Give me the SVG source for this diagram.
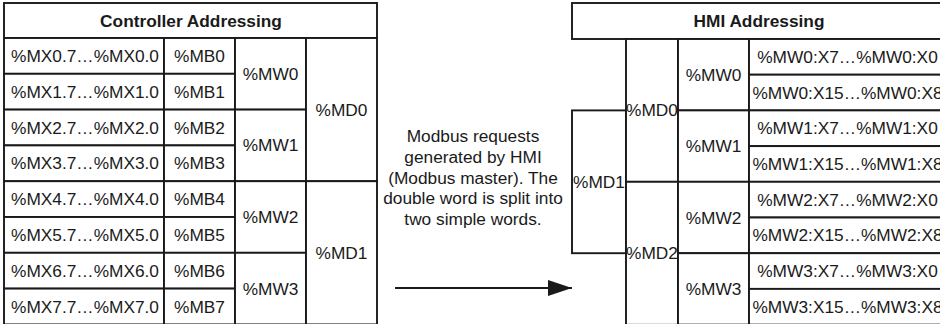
<svg xmlns="http://www.w3.org/2000/svg" width="940" height="324" viewBox="0 0 940 324">
<style>
rect{fill:#fff;stroke:#1a1a1a;stroke-width:1.9}
text{font-family:"Liberation Sans",Arial,sans-serif;font-size:17.3px;fill:#1a1a1a;text-anchor:middle}
.h{font-weight:bold}
.conn{stroke:#1a1a1a;stroke-width:1.9;fill:none}
</style>
<defs>
<marker id="ah" markerWidth="24" markerHeight="16" refX="24" refY="8" orient="auto" markerUnits="userSpaceOnUse">
<polygon points="0,0 24,8 0,16" fill="#1a1a1a"/>
</marker>
</defs>
<g id="ctrl">
<g id="ctrl-header"><rect x="4" y="3" width="373" height="35"/><text class="h" x="191" y="27">Controller Addressing</text></g>
<g id="mx0"><rect x="4" y="38" width="160" height="35.8"/><text x="85" y="62">%MX0.7…%MX0.0</text></g>
<g id="mx1"><rect x="4" y="73.8" width="160" height="35.8"/><text x="85" y="97.8">%MX1.7…%MX1.0</text></g>
<g id="mx2"><rect x="4" y="109.6" width="160" height="35.8"/><text x="85" y="133.6">%MX2.7…%MX2.0</text></g>
<g id="mx3"><rect x="4" y="145.4" width="160" height="35.8"/><text x="85" y="169.4">%MX3.7…%MX3.0</text></g>
<g id="mx4"><rect x="4" y="181.2" width="160" height="35.8"/><text x="85" y="205.2">%MX4.7…%MX4.0</text></g>
<g id="mx5"><rect x="4" y="217" width="160" height="35.8"/><text x="85" y="241">%MX5.7…%MX5.0</text></g>
<g id="mx6"><rect x="4" y="252.8" width="160" height="35.8"/><text x="85" y="276.8">%MX6.7…%MX6.0</text></g>
<g id="mx7"><rect x="4" y="288.6" width="160" height="35.8"/><text x="85" y="312.6">%MX7.7…%MX7.0</text></g>
<g id="mb0"><rect x="164" y="38" width="71" height="35.8"/><text x="199.5" y="62">%MB0</text></g>
<g id="mb1"><rect x="164" y="73.8" width="71" height="35.8"/><text x="199.5" y="97.8">%MB1</text></g>
<g id="mb2"><rect x="164" y="109.6" width="71" height="35.8"/><text x="199.5" y="133.6">%MB2</text></g>
<g id="mb3"><rect x="164" y="145.4" width="71" height="35.8"/><text x="199.5" y="169.4">%MB3</text></g>
<g id="mb4"><rect x="164" y="181.2" width="71" height="35.8"/><text x="199.5" y="205.2">%MB4</text></g>
<g id="mb5"><rect x="164" y="217" width="71" height="35.8"/><text x="199.5" y="241">%MB5</text></g>
<g id="mb6"><rect x="164" y="252.8" width="71" height="35.8"/><text x="199.5" y="276.8">%MB6</text></g>
<g id="mb7"><rect x="164" y="288.6" width="71" height="35.8"/><text x="199.5" y="312.6">%MB7</text></g>
<g id="mw0"><rect x="235" y="38" width="71" height="71.6"/><text x="270.5" y="79.8">%MW0</text></g>
<g id="mw1"><rect x="235" y="109.6" width="71" height="71.6"/><text x="270.5" y="151.4">%MW1</text></g>
<g id="mw2"><rect x="235" y="181.2" width="71" height="71.6"/><text x="270.5" y="223">%MW2</text></g>
<g id="mw3"><rect x="235" y="252.8" width="71" height="71.6"/><text x="270.5" y="294.6">%MW3</text></g>
<g id="md0"><rect x="306" y="38" width="71" height="143.2"/><text x="341.5" y="115.6">%MD0</text></g>
<g id="md1"><rect x="306" y="181.2" width="71" height="143.2"/><text x="341.5" y="258.8">%MD1</text></g>
</g>
<g id="note"><text x="473" y="142">Modbus requests</text><text x="473" y="163">generated by HMI</text><text x="473" y="183.5">(Modbus master). The</text><text x="473" y="204">double word is split into</text><text x="473" y="225">two simple words.</text></g>
<g id="connectors"><line class="conn" x1="395" y1="288" x2="572" y2="288" marker-end="url(#ah)"/></g>
<g id="hmi">
<g id="hmi-header"><rect x="572" y="3" width="374" height="36"/><text class="h" x="759" y="27">HMI Addressing</text></g>
<g id="hmi-md1"><rect x="572" y="110.4" width="54" height="142.8"/><text x="599" y="187.8">%MD1</text></g>
<g id="hmi-md0"><rect x="626" y="39" width="52" height="142.8"/><text x="652" y="116.4">%MD0</text></g>
<g id="hmi-md2"><rect x="626" y="181.8" width="52" height="143"/><text x="652" y="259.2">%MD2</text></g>
<g id="hmi-mw0"><rect x="678" y="39" width="71" height="71.4"/><text x="713.5" y="80.7">%MW0</text></g>
<g id="hmi-mw1"><rect x="678" y="110.4" width="71" height="71.4"/><text x="713.5" y="152.1">%MW1</text></g>
<g id="hmi-mw2"><rect x="678" y="181.8" width="71" height="71.4"/><text x="713.5" y="223.5">%MW2</text></g>
<g id="hmi-mw3"><rect x="678" y="253.2" width="71" height="71.4"/><text x="713.5" y="294.9">%MW3</text></g>
<g id="b0l"><rect x="749" y="39" width="197" height="35.7"/><text x="847.5" y="62.8">%MW0:X7…%MW0:X0</text></g>
<g id="b0h"><rect x="749" y="74.7" width="197" height="35.7"/><text x="847.5" y="98.5">%MW0:X15…%MW0:X8</text></g>
<g id="b1l"><rect x="749" y="110.4" width="197" height="35.7"/><text x="847.5" y="134.2">%MW1:X7…%MW1:X0</text></g>
<g id="b1h"><rect x="749" y="146.1" width="197" height="35.7"/><text x="847.5" y="169.9">%MW1:X15…%MW1:X8</text></g>
<g id="b2l"><rect x="749" y="181.8" width="197" height="35.7"/><text x="847.5" y="205.6">%MW2:X7…%MW2:X0</text></g>
<g id="b2h"><rect x="749" y="217.5" width="197" height="35.7"/><text x="847.5" y="241.3">%MW2:X15…%MW2:X8</text></g>
<g id="b3l"><rect x="749" y="253.2" width="197" height="35.7"/><text x="847.5" y="277">%MW3:X7…%MW3:X0</text></g>
<g id="b3h"><rect x="749" y="288.9" width="197" height="35.7"/><text x="847.5" y="312.7">%MW3:X15…%MW3:X8</text></g>
</g>
</svg>
